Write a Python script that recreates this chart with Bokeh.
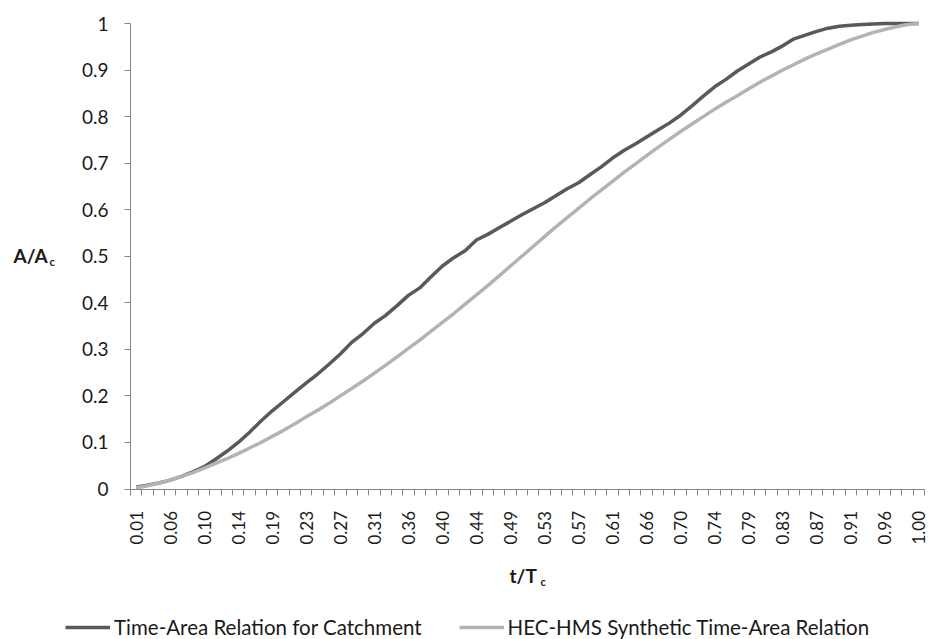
from bokeh.plotting import figure
from bokeh.models import FixedTicker, Label, Legend, LegendItem, ColumnDataSource, Range1d
from bokeh.embed import file_html
from bokeh.resources import INLINE

# ---------------- data ----------------
x_tick_labels = ["0.01", "0.06", "0.10", "0.14", "0.19", "0.23", "0.27", "0.31",
                 "0.36", "0.40", "0.44", "0.49", "0.53", "0.57", "0.61", "0.66",
                 "0.70", "0.74", "0.79", "0.83", "0.87", "0.91", "0.96", "1.00"]
y_tick_values = [0, 0.1, 0.2, 0.3, 0.4, 0.5, 0.6, 0.7, 0.8, 0.9, 1.0]
y_tick_labels = ["0", "0.1", "0.2", "0.3", "0.4", "0.5", "0.6", "0.7", "0.8", "0.9", "1"]

catchment = [0.004, 0.008, 0.013, 0.019, 0.027, 0.037, 0.048, 0.064, 0.081, 0.100,
             0.122, 0.146, 0.168, 0.188, 0.208, 0.228, 0.247, 0.268, 0.290, 0.315,
             0.334, 0.356, 0.373, 0.394, 0.416, 0.432, 0.456, 0.479, 0.497, 0.512,
             0.535, 0.547, 0.561, 0.575, 0.589, 0.602, 0.615, 0.630, 0.645, 0.658,
             0.675, 0.692, 0.711, 0.727, 0.741, 0.756, 0.771, 0.786, 0.803, 0.823,
             0.844, 0.864, 0.880, 0.898, 0.913, 0.928, 0.939, 0.952, 0.967, 0.975,
             0.983, 0.990, 0.994, 0.996, 0.998, 0.999, 1.000, 1.000, 1.000, 1.000]

hec_hms = [0.002, 0.007, 0.013, 0.019, 0.027, 0.035, 0.045, 0.055, 0.065, 0.076,
           0.088, 0.100, 0.113, 0.126, 0.140, 0.155, 0.169, 0.184, 0.200, 0.216,
           0.232, 0.249, 0.266, 0.284, 0.302, 0.320, 0.339, 0.358, 0.377, 0.397,
           0.417, 0.437, 0.458, 0.479, 0.500, 0.521, 0.542, 0.563, 0.583, 0.603,
           0.623, 0.642, 0.661, 0.680, 0.698, 0.716, 0.734, 0.751, 0.768, 0.784,
           0.800, 0.816, 0.831, 0.845, 0.860, 0.874, 0.887, 0.900, 0.912, 0.924,
           0.935, 0.945, 0.955, 0.965, 0.973, 0.981, 0.987, 0.993, 0.998, 1.000]

series_names = ["Time-Area Relation for Catchment", "HEC-HMS Synthetic Time-Area Relation"]

# ---------------- layout (pixels) ----------------
W, H = 930, 639
PX_LEFT, PX_RIGHT = 130, 924      # category axis extent
PY_TOP, PY_BOTTOM = 23, 488.5     # value axis extent

n = len(catchment)
idx = list(range(1, n + 1))
label_pos = idx[::3]
boundaries = [i - 0.5 for i in idx] + [n + 0.5]

ux = (PX_RIGHT - PX_LEFT) / n
uy = PY_BOTTOM - PY_TOP
x_start = 0.5 - PX_LEFT / ux
x_end = 0.5 + (W - PX_LEFT) / ux
y_start = -(H - PY_BOTTOM) / uy
y_end = 1 + PY_TOP / uy


def X(px):
    return x_start + px / ux


def Y(py):
    return y_end - py / uy


FONT = "Lato"
TEXT = "#1a1a1a"
AXIS = "#868686"

p = figure(width=W, height=H, output_backend="svg", toolbar_location=None,
           x_range=Range1d(x_start, x_end), y_range=Range1d(y_start, y_end),
           min_border=0)
p.outline_line_color = None
p.xgrid.visible = False
p.ygrid.visible = False
p.background_fill_color = "white"
p.border_fill_color = "white"

src = ColumnDataSource(dict(x=idx, a=catchment, b=hec_hms))
r1 = p.line("x", "a", source=src, line_color="#595959", line_width=3.5, line_join="round")
r2 = p.line("x", "b", source=src, line_color="#b3b3b3", line_width=3.5, line_join="round")

# x axis (category style: labels at centres, ticks at boundaries)
xa = p.xaxis[0]
xa.fixed_location = 0
xa.bounds = (0.5, n + 0.5)
xa.ticker = FixedTicker(ticks=label_pos, minor_ticks=boundaries)
xa.major_label_overrides = {pos: lab for pos, lab in zip(label_pos, x_tick_labels)}
xa.major_label_orientation = 1.5708
xa.major_tick_out = 0
xa.major_tick_in = 0
xa.minor_tick_out = 6
xa.minor_tick_in = 0
xa.minor_tick_line_color = AXIS
xa.axis_line_color = AXIS
xa.major_label_standoff = 16
xa.major_label_text_font = FONT
xa.major_label_text_font_size = "17px"
xa.major_label_text_color = TEXT

# y axis
ya = p.yaxis[0]
ya.fixed_location = 0.5
ya.bounds = (0, 1)
ya.ticker = FixedTicker(ticks=y_tick_values, minor_ticks=[])
ya.major_label_overrides = {v: lab for v, lab in zip(y_tick_values, y_tick_labels)}
ya.major_tick_out = 6
ya.major_tick_in = 0
ya.minor_tick_out = 0
ya.minor_tick_in = 0
ya.major_tick_line_color = AXIS
ya.axis_line_color = AXIS
ya.major_label_standoff = 16
ya.major_label_text_font = FONT
ya.major_label_text_font_size = "19px"
ya.major_label_text_color = TEXT

# axis titles (with subscripts)
for txt, px, py, size in [("A/A", 13, 255, "19px"), ("c", 49, 261, "11px"),
                          ("t/T", 509, 575, "19px"), ("c", 540, 581, "11px")]:
    p.add_layout(Label(x=X(px), y=Y(py), text=txt,
                       text_font=FONT, text_font_style="bold", text_font_size=size,
                       text_color=TEXT, text_baseline="middle", text_align="left"))

legend = Legend(items=[LegendItem(label=series_names[0], renderers=[r1]),
                       LegendItem(label=series_names[1], renderers=[r2])],
                orientation="horizontal", location=(65, 0),
                glyph_width=45, glyph_height=20, label_height=20,
                label_standoff=4, spacing=37,
                padding=0, margin=0, border_line_color=None,
                background_fill_alpha=0,
                label_text_font=FONT, label_text_font_size="20.5px",
                label_text_color=TEXT)
p.add_layout(legend)

open("out.html", "w").write(file_html(p, INLINE))
